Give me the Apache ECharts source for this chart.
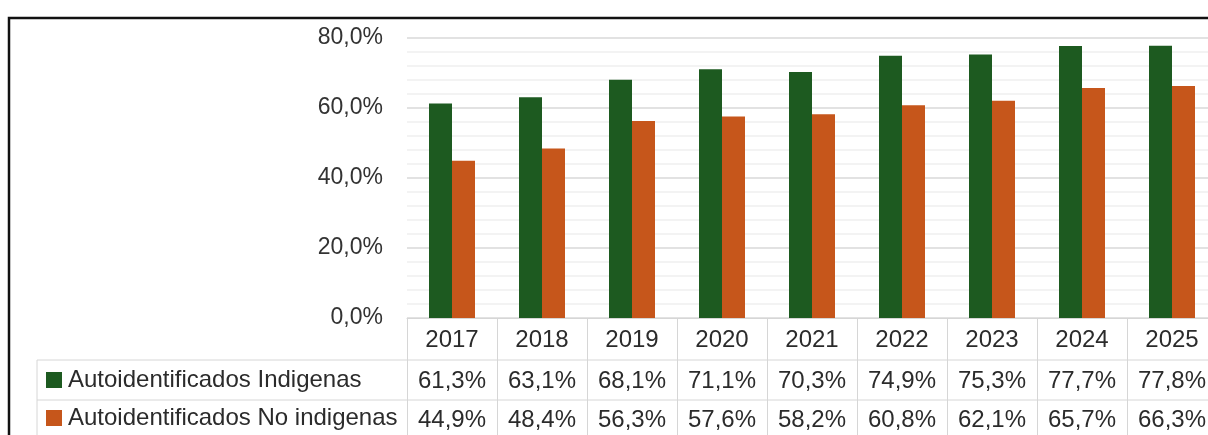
<!DOCTYPE html>
<html>
<head>
<meta charset="utf-8">
<script src="https://cdn.jsdelivr.net/npm/echarts@6/dist/echarts.min.js"></script>
<style>
  html, body { margin: 0; padding: 0; background: #fff; }
  #chart { width: 1208px; height: 435px; }
</style>
</head>
<body>
<div id="chart"></div>
<script>
// Years shown along the category axis / data table header
const years = ['2017', '2018', '2019', '2020', '2021', '2022', '2023', '2024', '2025'];
// Series names
const seriesNames = ['Autoidentificados Indigenas', 'Autoidentificados No indigenas'];
// Percentages per year
const indigenas = [61.3, 63.1, 68.1, 71.1, 70.3, 74.9, 75.3, 77.7, 77.8];
const noIndigenas = [44.9, 48.4, 56.3, 57.6, 58.2, 60.8, 62.1, 65.7, 66.3];
// Value axis ticks
const yTicks = [0, 20, 40, 60, 80];

const GREEN = '#1d5a20';
const ORANGE = '#c6561b';
const FONT = 'Liberation Sans, Arial, sans-serif';
const TEXT = '#2b2b2b';
const LINE = '#d6d6d6';

const pct = v => v.toFixed(1).replace('.', ',') + '%';

// one legend entry per data-table row, placed as the row header
const rowHeader = (name, top) => ({
  left: 46,
  top: top,
  itemWidth: 16,
  itemHeight: 16,
  selectedMode: false,
  icon: 'rect',
  padding: 0,
  textStyle: { fontFamily: FONT, fontSize: 24, color: TEXT, padding: [0, 0, 0, 1] },
  data: [name]
});

const chart = echarts.init(document.getElementById('chart'), null, { renderer: 'canvas' });

chart.setOption({
  animation: false,
  backgroundColor: '#ffffff',
  textStyle: { fontFamily: FONT },
  grid: {
    left: 407, top: 38, width: 810, height: 280,
    containLabel: false,
    outerBoundsMode: 'none'
  },
  legend: [rowHeader(seriesNames[0], 368), rowHeader(seriesNames[1], 406)],
  xAxis: {
    type: 'category',
    data: years,
    axisLine: { show: true, lineStyle: { color: LINE, width: 1 } },
    axisTick: { show: true, length: 125, lineStyle: { color: LINE, width: 1 } },
    axisLabel: {
      margin: 1,
      interval: 0,
      formatter: (value, idx) =>
        '{c|' + value + '}\n{v|' + pct(indigenas[idx]) + '}\n{w|' + pct(noIndigenas[idx]) + '}',
      rich: {
        c: { fontFamily: FONT, fontSize: 24, color: TEXT, lineHeight: 42, height: 42 },
        v: { fontFamily: FONT, fontSize: 24, color: TEXT, lineHeight: 40, height: 40 },
        w: { fontFamily: FONT, fontSize: 24, color: TEXT, lineHeight: 38, height: 38 }
      }
    }
  },
  yAxis: {
    type: 'value',
    min: yTicks[0],
    max: yTicks[yTicks.length - 1],
    interval: yTicks[1] - yTicks[0],
    axisLine: { show: false },
    axisTick: { show: false },
    axisLabel: {
      margin: 24,
      fontFamily: FONT,
      fontSize: 23,
      color: '#333333',
      formatter: v => pct(v)
    },
    splitLine: { show: true, lineStyle: { color: '#d9d9d9', width: 1.5 } },
    minorTick: { show: false, splitNumber: 5 },
    minorSplitLine: { show: true, lineStyle: { color: '#efefef', width: 1.5 } }
  },
  series: [
    {
      name: seriesNames[0],
      type: 'bar',
      data: indigenas,
      barWidth: 23,
      barGap: '0%',
      itemStyle: { color: GREEN }
    },
    {
      name: seriesNames[1],
      type: 'bar',
      data: noIndigenas,
      barWidth: 23,
      barGap: '0%',
      itemStyle: { color: ORANGE }
    }
  ],
  graphic: [
    // outer frame
    {
      type: 'rect',
      shape: { x: 9, y: 18, width: 1400, height: 600 },
      style: { fill: 'none', stroke: '#111111', lineWidth: 2.5 },
      z: 100
    },
    // data table row separators and left edge of the row-header column
    {
      type: 'line',
      shape: { x1: 37, y1: 360, x2: 1217, y2: 360 },
      style: { stroke: LINE, lineWidth: 1 }
    },
    {
      type: 'line',
      shape: { x1: 37, y1: 400, x2: 1217, y2: 400 },
      style: { stroke: LINE, lineWidth: 1 }
    },
    {
      type: 'line',
      shape: { x1: 37, y1: 360, x2: 37, y2: 440 },
      style: { stroke: LINE, lineWidth: 1 }
    }
  ]
});
</script>
</body>
</html>
